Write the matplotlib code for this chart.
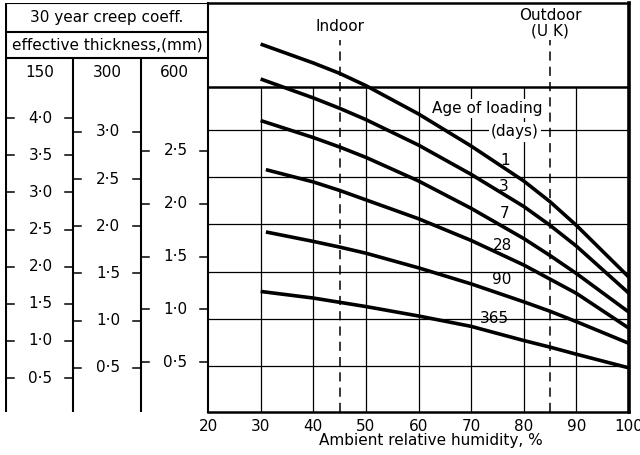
import matplotlib
matplotlib.use("Agg")
import matplotlib.pyplot as plt

# ambient relative humidity, %
rh = [30, 40, 45, 50, 60, 70, 80, 85, 90, 100]
rh_late = [31, 40, 45, 50, 60, 70, 80, 85, 90, 100]

# 30 year creep coefficient (300 mm effective thickness) by age of loading, days
ages = ['1', '3', '7', '28', '90', '365']
creep_1 = [3.91, 3.71, 3.60, 3.47, 3.17, 2.83, 2.46, 2.24, 1.99, 1.44]
creep_3 = [3.54, 3.34, 3.23, 3.11, 2.84, 2.53, 2.19, 1.99, 1.77, 1.27]
creep_7 = [3.10, 2.92, 2.82, 2.71, 2.46, 2.17, 1.85, 1.67, 1.48, 1.07]
creep_28 = [2.58, 2.45, 2.36, 2.26, 2.06, 1.83, 1.57, 1.42, 1.27, 0.90]
creep_90 = [1.92, 1.82, 1.76, 1.695, 1.54, 1.37, 1.18, 1.08, 0.97, 0.74]
creep_365 = [1.29, 1.22, 1.175, 1.13, 1.03, 0.92, 0.77, 0.70, 0.625, 0.48]

# where each age label sits (rh, coeff)
label_rh = [76.4, 76.2, 76.4, 75.9, 75.8, 74.5]
label_val = [2.68, 2.40, 2.12, 1.78, 1.42, 1.00]

# scale columns for the three effective thicknesses
thick = ['150', '300', '600']
ticks_150 = [0.5, 1.0, 1.5, 2.0, 2.5, 3.0, 3.5, 4.0]
ticks_300 = [0.5, 1.0, 1.5, 2.0, 2.5, 3.0]
ticks_600 = [0.5, 1.0, 1.5, 2.0, 2.5]
# conversion of each column onto the 300 mm scale
ratio = {'150': 0.786, '300': 1.0, '600': 1.12}

rh_grid = [30, 40, 50, 60, 70, 80, 90]
val_grid = [0.5, 1.0, 1.5, 2.0, 2.5, 3.0]
rh_indoor = 45
rh_outdoor = 85

YLO, YHI = 0.013, 4.345
HEAD = 3.455
FS = 11

plt.rcParams['font.family'] = 'DejaVu Sans'
fig = plt.figure(figsize=(6.4, 4.55), dpi=100)

# ---- right hand chart ----
ax = fig.add_axes([208/640, 43/455, 421/640, 409/455])
ax.set_xlim(20, 100)
ax.set_ylim(YLO, YHI)
ax.vlines(rh_grid, YLO, HEAD, color='black', lw=0.9, zorder=1)
ax.hlines(val_grid, 20, 100, color='black', lw=0.9, zorder=1)
ax.axhline(HEAD, color='black', lw=1.8, zorder=1)
for r in (rh_indoor, rh_outdoor):
    ax.vlines(r, YLO, 3.95, color='black', lw=1.1, linestyles=(0, (6, 4)), zorder=1)

curves = [(rh, creep_1), (rh, creep_3), (rh, creep_7),
          (rh_late, creep_28), (rh_late, creep_90), (rh, creep_365)]
for (x, y) in curves:
    ax.plot(x, y, color='black', lw=2.6, solid_capstyle='butt',
            solid_joinstyle='round', zorder=3)

for a, lx, ly in zip(ages, label_rh, label_val):
    ax.text(lx, ly, a, fontsize=FS, ha='center', va='center', zorder=4)

box = dict(facecolor='white', edgecolor='none', pad=1.5)
ax.text(73.0, 3.23, 'Age of loading', fontsize=FS, ha='center', va='center',
        bbox=box, zorder=2)
ax.text(78.3, 2.98, '(days)', fontsize=FS, ha='center', va='center',
        bbox=box, zorder=2)
ax.text(rh_indoor, 4.10, 'Indoor', fontsize=FS, ha='center', va='center')
ax.text(rh_outdoor, 4.21, 'Outdoor', fontsize=FS, ha='center', va='center')
ax.text(rh_outdoor, 4.05, '(U K)', fontsize=FS, ha='center', va='center')

ax.set_xticks(range(20, 101, 10))
ax.set_yticks([])
ax.tick_params(axis='x', length=0, pad=5, labelsize=FS)
for side, w in (('top', 1.8), ('bottom', 1.8), ('left', 1.5), ('right', 2.6)):
    ax.spines[side].set_linewidth(w)
fig.text(431/640, 1 - 440/455, 'Ambient relative humidity, %', fontsize=FS,
         ha='center', va='center')

# ---- left hand scale table ----
axl = fig.add_axes([5/640, 43/455, 203/640, 409/455])
axl.set_xlim(5, 208)
axl.set_ylim(YLO, YHI)
axl.axis('off')

edges = [6, 73, 141, 208]
axl.vlines(edges[:3], YLO, HEAD, color='black', lw=1.5)
axl.vlines(edges[0], HEAD, YHI, color='black', lw=1.5)
axl.vlines(edges[1:3], HEAD, 3.763, color='black', lw=1.5)
axl.hlines([3.763, 4.038, YHI - 0.005], 6, 208, color='black', lw=1.5)

axl.text(107, 4.19, '30 year creep coeff.', fontsize=FS, ha='center', va='center')
axl.text(107, 3.90, 'effective thickness,(mm)', fontsize=FS, ha='center', va='center')

columns = [ticks_150, ticks_300, ticks_600]
for i, (name, vals) in enumerate(zip(thick, columns)):
    x0, x1 = edges[i], edges[i + 1]
    xc = (x0 + x1) / 2
    axl.text(xc, 3.61, name, fontsize=FS, ha='center', va='center')
    for v in vals:
        yy = ratio[name] * v - 0.02
        axl.plot([x0, x0 + 8], [yy, yy], color='black', lw=1.1)
        axl.plot([x1 - 8, x1], [yy, yy], color='black', lw=1.1)
        axl.text(xc + 1, yy, f'{v:.1f}'.replace('.', '\u00b7'), fontsize=FS,
                 ha='center', va='center')

fig.savefig('out.png', dpi=100)
